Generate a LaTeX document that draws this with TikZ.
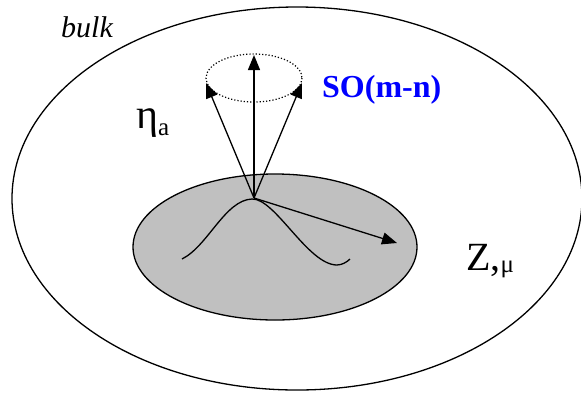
\documentclass[tikz,border=0pt]{standalone}
\usepackage{fontspec}
\setmainfont{Liberation Serif}
\usetikzlibrary{arrows.meta}
\definecolor{surfgray}{RGB}{192,192,192}
\definecolor{sotext}{RGB}{0,0,255}
\tikzset{
  vec/.style={line width=1.3pt, -{Triangle[length=15pt,width=12pt]}},
  lab/.style={inner sep=0pt, anchor=base west},
}
\begin{document}
\begin{tikzpicture}[x=1pt,y=-1pt]
\useasboundingbox (0,0) rectangle (581,392);
% bulk
\draw[line width=1.3pt] (297,198.5) ellipse [x radius=285, y radius=191.5];
% brane
\draw[line width=1.3pt, fill=surfgray] (275,247) ellipse [x radius=142, y radius=73];
% SO rotation circle
\draw[line width=1.2pt, dotted] (254,78) ellipse [x radius=48, y radius=24];
% wave
\draw[line width=1.3pt] (182,259) .. controls (208,246) and (225,200) .. (252,199)
  .. controls (275,198) and (308,265) .. (337,265)
  .. controls (342,265) and (347,262) .. (350,259);
\coordinate (apex) at (254,198);
\coordinate (up) at (254,55);
\coordinate (upl) at (206,83);
\coordinate (upr) at (302,83);
\coordinate (tang) at (397,243);
\draw[vec] (apex) -- (up);
\draw[vec] (apex) -- (upl);
\draw[vec] (apex) -- (upr);
\draw[vec] (apex) -- (tang);
% labels
\node[lab] (bulk) at (61,37) {\fontsize{30}{32}\selectfont\itshape bulk};
\node[lab] (so) at (322,97) {\fontsize{32}{34}\selectfont\bfseries\color{sotext}SO(m-n)};
\node[lab] (eta) at (136,128) {\fontsize{42}{44}\selectfont η\raisebox{-7pt}{\fontsize{25}{25}\selectfont a}};
\node[lab] (z) at (466,270) {\fontsize{40}{42}\selectfont Z,\raisebox{-2pt}{\fontsize{25}{25}\selectfont μ}};
\end{tikzpicture}
\end{document}
